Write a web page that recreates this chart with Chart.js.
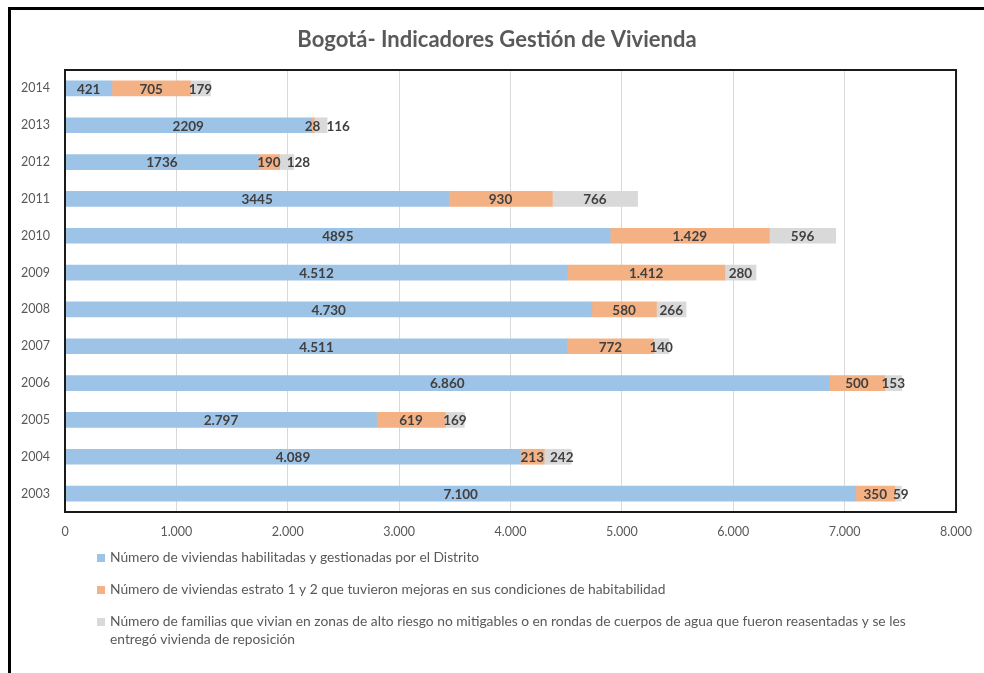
<!DOCTYPE html>
<html>
<head>
<meta charset="utf-8">
<script src="https://cdn.jsdelivr.net/npm/chart.js@4/dist/chart.umd.min.js"></script>
<style>
  html, body { margin: 0; padding: 0; background: #fff; overflow: hidden; }
  #marco { position: absolute; left: 8px; top: 7px; width: 1000px; height: 700px; border: 3px solid #000; }
  #contenedor { position: absolute; left: 0; top: 0; width: 984px; height: 673px; }
</style>
</head>
<body>
<div id="marco"></div>
<div id="contenedor"><canvas id="grafico" width="984" height="673"></canvas></div>
<script>
const anios = ['2014', '2013', '2012', '2011', '2010', '2009', '2008', '2007', '2006', '2005', '2004', '2003'];
const habilitadas = [421, 2209, 1736, 3445, 4895, 4512, 4730, 4511, 6860, 2797, 4089, 7100];
const mejoras = [705, 28, 190, 930, 1429, 1412, 580, 772, 500, 619, 213, 350];
const reasentadas = [179, 116, 128, 766, 596, 280, 266, 140, 153, 169, 242, 59];
// en el original las etiquetas azules de estos años no llevan punto de miles
const aniosSinPunto = ['2014', '2013', '2012', '2011', '2010'];

const series = [
  'Número de viviendas habilitadas y gestionadas por el Distrito',
  'Número de viviendas estrato 1 y 2 que tuvieron mejoras en sus condiciones de habitabilidad',
  'Número de familias que vivian en zonas de alto riesgo no mitigables o en rondas de cuerpos de agua que fueron reasentadas y se les entregó vivienda de reposición'
];
const colores = ['#9DC3E6', '#F4B183', '#D9D9D9'];
const titulo = 'Bogotá- Indicadores Gestión de Vivienda';

const gris = '#595959';
const fuente = 'Lato, "Open Sans", sans-serif';

function conPunto(v) {
  return String(v).replace(/\B(?=(\d{3})+(?!\d))/g, '.');
}

function etiqueta(ds, i, v) {
  if (ds === 0 && aniosSinPunto.includes(anios[i])) return String(v);
  return conPunto(v);
}

const marcoArea = {
  id: 'marcoArea',
  afterDatasetsDraw(chart) {
    const a = chart.chartArea;
    const ctx = chart.ctx;
    ctx.save();
    ctx.strokeStyle = '#1a1a1a';
    ctx.lineWidth = 2;
    ctx.strokeRect(a.left, a.top, a.right - a.left, a.bottom - a.top);
    ctx.restore();
  }
};

const etiquetas = {
  id: 'etiquetas',
  afterDatasetsDraw(chart) {
    const ctx = chart.ctx;
    ctx.save();
    ctx.font = 'bold 13.5px ' + fuente;
    ctx.fillStyle = '#404040';
    ctx.textAlign = 'center';
    ctx.textBaseline = 'middle';
    const finPrevio = {};
    chart.data.datasets.forEach((d, ds) => {
      chart.getDatasetMeta(ds).data.forEach((bar, i) => {
        const txt = etiqueta(ds, i, d.data[i]);
        const w = ctx.measureText(txt).width;
        let cx = (bar.x + bar.base) / 2;
        const prev = finPrevio[i];
        if (prev !== undefined && cx - w / 2 < prev + 6) cx = prev + 6 + w / 2;
        finPrevio[i] = cx + w / 2;
        ctx.fillText(txt, cx, bar.y + 1);
      });
    });
    ctx.restore();
  }
};

const tituloYLeyenda = {
  id: 'tituloYLeyenda',
  afterDraw(chart) {
    const ctx = chart.ctx;
    ctx.save();
    ctx.fillStyle = gris;
    ctx.font = 'bold 22px ' + fuente;
    ctx.textAlign = 'center';
    ctx.textBaseline = 'middle';
    ctx.fillText(titulo, 497, 40);

    ctx.font = '13.8px ' + fuente;
    ctx.textAlign = 'left';
    let y = 558;
    chart.data.datasets.forEach((d) => {
      ctx.fillStyle = d.backgroundColor;
      ctx.fillRect(97, y - 4, 8, 8);
      ctx.fillStyle = gris;
      const palabras = d.label.split(' ');
      let linea = '';
      const lineas = [];
      palabras.forEach((p) => {
        const prueba = linea ? linea + ' ' + p : p;
        if (ctx.measureText(prueba).width > 810 && linea) {
          lineas.push(linea);
          linea = p;
        } else {
          linea = prueba;
        }
      });
      lineas.push(linea);
      lineas.forEach((l, k) => ctx.fillText(l, 110, y + k * 18));
      y += 32;
    });
    ctx.restore();
  }
};

new Chart(document.getElementById('grafico'), {
  type: 'bar',
  data: {
    labels: anios,
    datasets: [
      { label: series[0], data: habilitadas, backgroundColor: colores[0] },
      { label: series[1], data: mejoras, backgroundColor: colores[1] },
      { label: series[2], data: reasentadas, backgroundColor: colores[2] }
    ]
  },
  options: {
    responsive: false,
    animation: false,
    indexAxis: 'y',
    layout: { padding: { top: 70, left: 10, right: 25, bottom: 131 } },
    datasets: { bar: { barThickness: 15, borderWidth: 0 } },
    scales: {
      x: {
        stacked: true,
        min: 0,
        max: 8000,
        ticks: {
          stepSize: 1000,
          color: gris,
          font: { family: fuente, size: 12.5 },
          padding: 12,
          callback: (v) => conPunto(v)
        },
        grid: { color: '#D9D9D9', lineWidth: 1, drawTicks: false },
        border: { display: false },
        afterFit: (s) => { s.height = 30; }
      },
      y: {
        stacked: true,
        ticks: { color: gris, font: { family: fuente, size: 12.5 }, padding: 15 },
        grid: { display: false, drawTicks: false },
        border: { display: false },
        afterFit: (s) => { s.width = 55; }
      }
    },
    plugins: {
      legend: { display: false },
      title: { display: false },
      tooltip: { enabled: false }
    }
  },
  plugins: [marcoArea, etiquetas, tituloYLeyenda]
});
</script>
</body>
</html>
